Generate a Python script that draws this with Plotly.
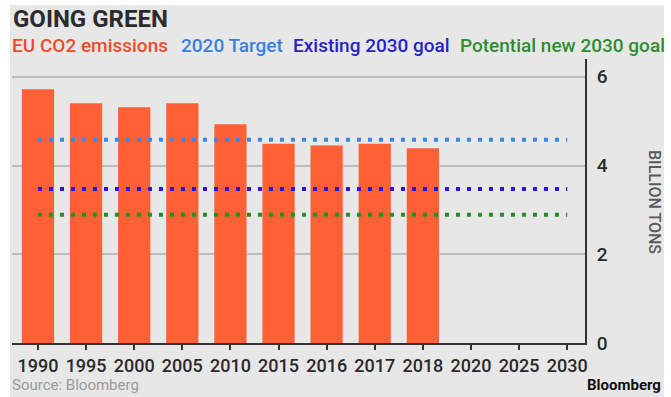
import plotly.graph_objects as go

years = ["1990", "1995", "2000", "2005", "2010", "2015", "2016", "2017", "2018", "2020", "2025", "2030"]
emissions = [5.72, 5.40, 5.31, 5.40, 4.93, 4.49, 4.45, 4.49, 4.39, None, None, None]
target_2020 = 4.58
existing_2030 = 3.47
potential_2030 = 2.89
y_ticks = [0, 2, 4, 6]

W, H = 671, 397
L, R, T, B = 12, 86, 59, 54
PW, PH = W - L - R, H - T - B


def px(x):
    return (x - L) / PW


def py(y):
    return (H - B - y) / PH


fig = go.Figure()
fig.add_trace(go.Bar(
    x=years, y=emissions, width=0.67,
    marker=dict(color="#ff6035", line=dict(width=0)),
    showlegend=False, hoverinfo="x+y",
))
for val, col in [(target_2020, "#3a86e8"), (existing_2030, "#2a16d6"), (potential_2030, "#219021")]:
    fig.add_trace(go.Scatter(
        x=[years[0], years[-1]], y=[val, val], mode="lines",
        line=dict(color=col, width=4, dash="4px,7px"),
        showlegend=False, hoverinfo="y",
    ))

fig.update_layout(
    width=W, height=H,
    margin=dict(l=L, r=R, t=T, b=B, pad=0),
    paper_bgcolor="white", plot_bgcolor="rgba(0,0,0,0)",
    font=dict(family="Roboto", color="#333"),
    xaxis=dict(
        type="category", categoryorder="array", categoryarray=years,
        range=[-0.54, 11.37], showgrid=False,
        showline=True, linecolor="#333", linewidth=2,
        ticks="outside", ticklen=5, tickwidth=1.5, tickcolor="#333",
        tickfont=dict(size=18, color="#2a2a2a", family="Roboto", weight=500),
        fixedrange=True,
    ),
    yaxis=dict(
        side="right", range=[0, 6.4], tickvals=y_ticks, ticktext=[str(v) for v in y_ticks],
        showgrid=True, gridcolor="#bdbdbd", gridwidth=1.5,
        showline=True, linecolor="#333", linewidth=2, zeroline=False,
        ticks="", ticklabelstandoff=6,
        tickfont=dict(size=19, color="#2a2a2a", family="Roboto", weight=500),
        fixedrange=True,
    ),
    shapes=[dict(
        type="rect", xref="paper", yref="paper", layer="below",
        x0=px(10), x1=px(664), y0=py(397), y1=py(5),
        fillcolor="#e7e7e7", line=dict(width=0),
    )],
)

ann = []
ann.append(dict(text="<b>GOING GREEN</b>", x=px(11), y=py(19), xanchor="left", yanchor="middle",
                font=dict(size=24, color="#2b2b2b", family="Roboto")))
legend_items = [
    ("EU CO2 emissions", "#ef4b2b", 10),
    ("2020 Target", "#3a7fe0", 179),
    ("Existing 2030 goal", "#2a1fc8", 291),
    ("Potential new 2030 goal", "#2e8d2e", 458),
]
for txt, col, x0 in legend_items:
    ann.append(dict(text=txt, x=px(x0), y=py(45), xanchor="left", yanchor="middle",
                    font=dict(size=19, color=col, family="Roboto", weight=500)))
ann.append(dict(text="BILLION TONS", x=px(655), y=py(202), xanchor="center", yanchor="middle",
                textangle=90, font=dict(size=16, color="#5a5a5a", family="Roboto", weight=500)))
ann.append(dict(text="Source: Bloomberg", x=px(10), y=py(385), xanchor="left", yanchor="middle",
                font=dict(size=15, color="#9a9a9a", family="Roboto")))
ann.append(dict(text="<b>Bloomberg</b>", x=px(663), y=py(385), xanchor="right", yanchor="middle",
                font=dict(size=15, color="#111", family="Roboto")))
for a in ann:
    a.update(xref="paper", yref="paper", showarrow=False)
fig.update_layout(annotations=ann)

fig.write_html("out.html", config={"displayModeBar": False},
               post_script="document.body.style.margin='0';")
